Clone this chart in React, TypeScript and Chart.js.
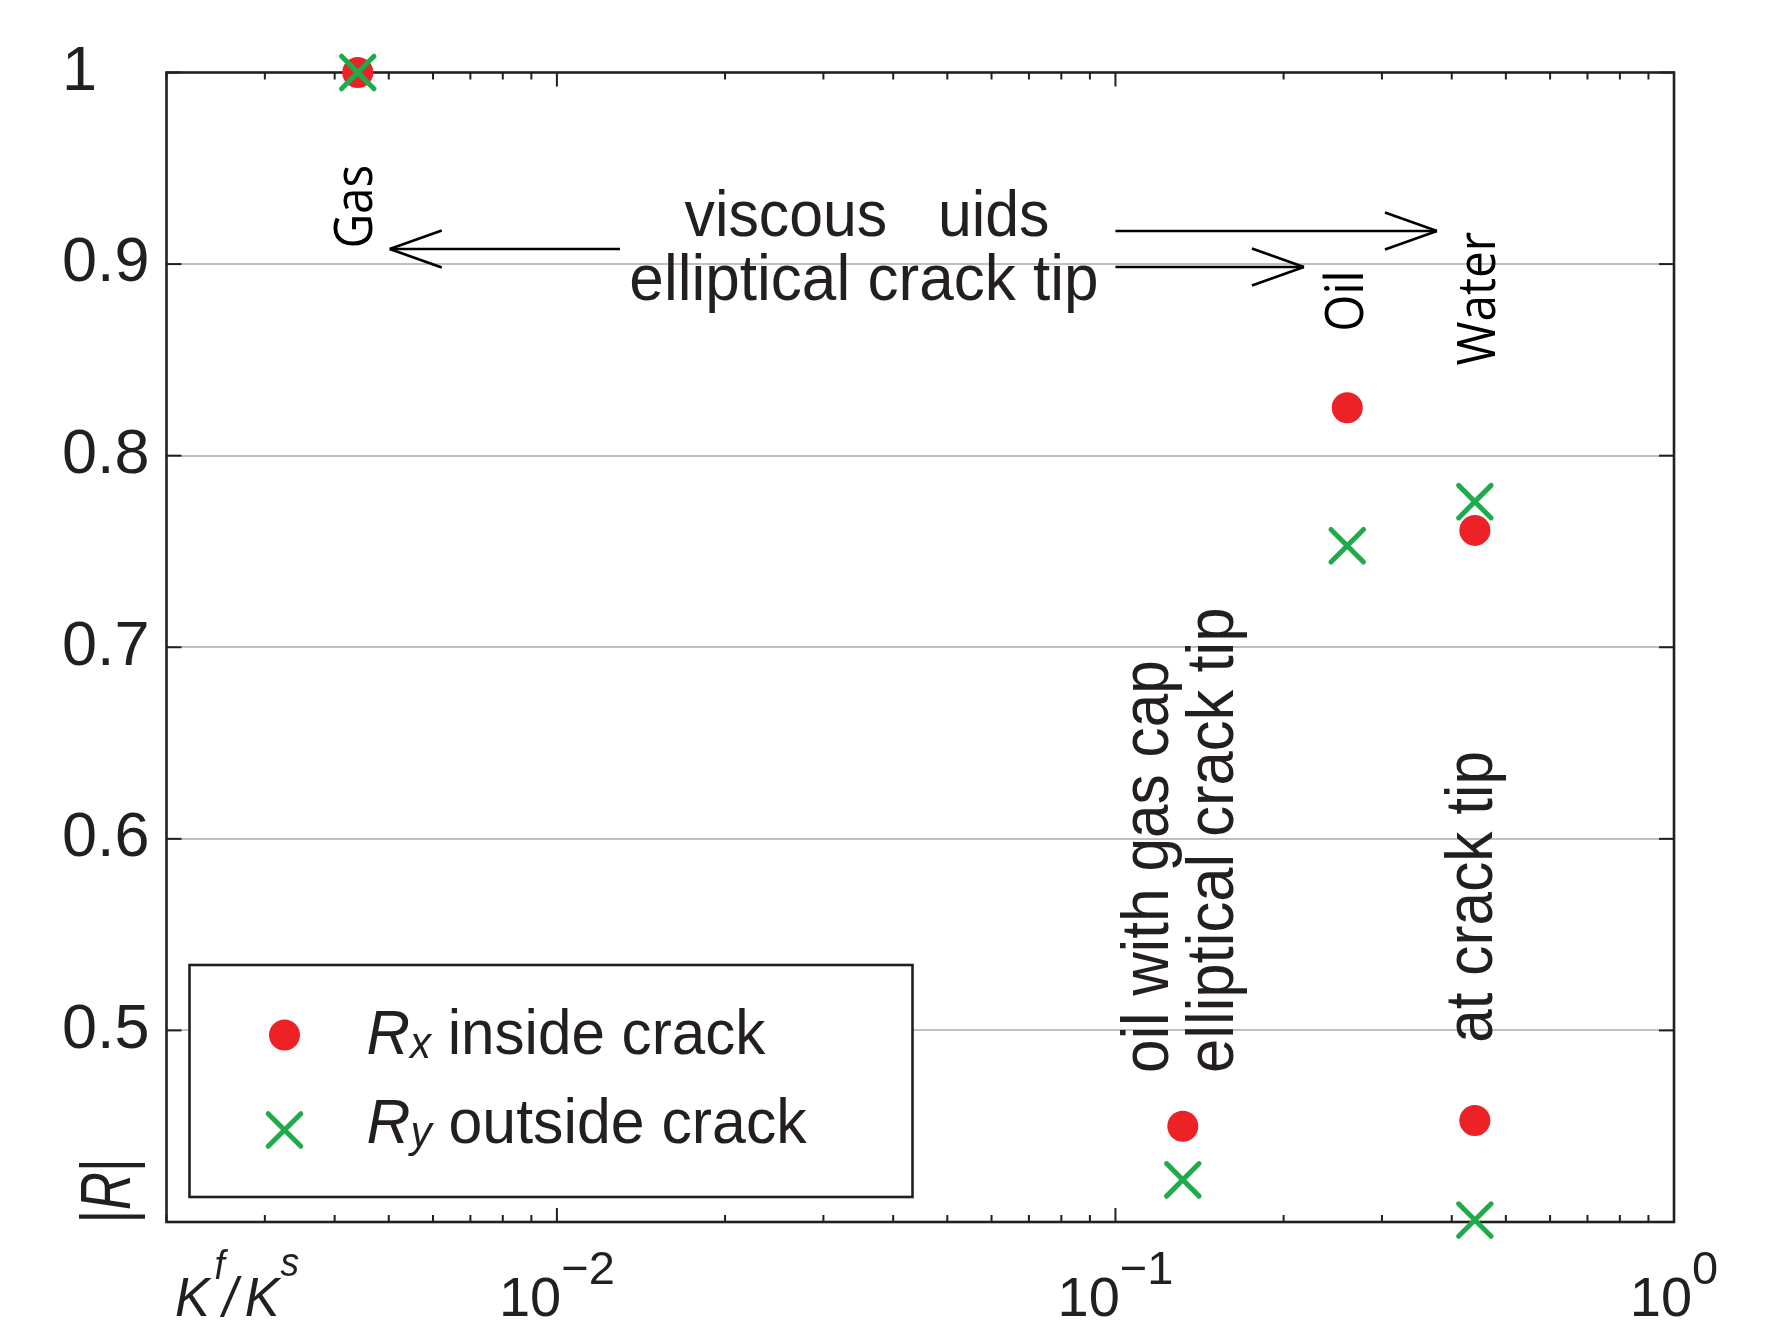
import React, { useEffect, useRef } from 'react';
import { Chart, registerables } from 'chart.js';

Chart.register(...registerables);

// ---------------- data ----------------
const caseNames = ['Gas', 'oil with gas cap', 'Oil', 'Water', 'Water at crack tip'];
const kRatio = [0.0044, 0.132, 0.26, 0.44, 0.44];          // K^f / K^s
const rxInside = [1.0, 0.45, 0.825, 0.761, 0.453];          // |R_x| inside crack
const ryOutside = [1.0, 0.422, 0.753, 0.776, 0.401];        // |R_y| outside crack

const yTickValues = [0.4, 0.5, 0.6, 0.7, 0.8, 0.9, 1.0];
const yTickLabels = ['', '0.5', '0.6', '0.7', '0.8', '0.9', '1'];
const xMajorValues = [0.01, 0.1, 1];
const xMajorExponents = ['\u22122', '\u22121', '0'];
const xMinorMultipliers = [2, 3, 4, 5, 6, 7, 8, 9];
const xRange = [0.002, 1];
const yRange = [0.4, 1.0];

// ---------------- annotations (positions in data units) ----------------
const fluidLabels = [
  { text: 'Gas', x: 0.00467, y: 0.930 },
  { text: 'Oil', x: 0.2774, y: 0.8807 },
  { text: 'Water', x: 0.478, y: 0.882 },
];
const headerLabels = [
  { text: 'viscous   uids', x: 0.0359, y: 0.9147, sx: 0.95 },
  { text: 'elliptical crack tip', x: 0.03546, y: 0.8813, sx: 0.97 },
];
const verticalNotes = [
  { text: 'oil with gas cap', x: 0.1241, y: 0.4778, sx: 0.915 },
  { text: 'elliptical crack tip', x: 0.1623, y: 0.4778, sx: 0.933 },
  { text: 'at crack tip', x: 0.472, y: 0.4935, sx: 0.915 },
];
const arrows = [
  { from: [0.01297, 0.9079], to: [0.00502, 0.9079] },
  { from: [0.1, 0.9173], to: [0.3764, 0.9173] },
  { from: [0.1, 0.8985], to: [0.2175, 0.8985] },
];

// ---------------- styles ----------------
const INK = '#231f20';
const RED = '#ec2227';
const GREEN = '#21aa4b';
const GRID = '#bfbfc1';
const SANS = '"Liberation Sans", Arial, Helvetica, sans-serif';
const FLUID = '"Open Sans", "Noto Sans", sans-serif';

type Seg = { t: string; font: string; dy: number; dx?: number };

function drawSegs(ctx: CanvasRenderingContext2D, segs: Seg[], x: number, y: number, align: 'left' | 'center', sx: number, rotate = false) {
  ctx.save();
  ctx.translate(x, y);
  if (rotate) ctx.rotate(-Math.PI / 2);
  ctx.scale(sx, 1);
  ctx.textAlign = 'left';
  ctx.textBaseline = 'alphabetic';
  const widths = segs.map((s) => {
    ctx.font = s.font;
    return ctx.measureText(s.t).width + (s.dx || 0);
  });
  const total = widths.reduce((a, b) => a + b, 0);
  let cx = align === 'center' ? -total / 2 : 0;
  segs.forEach((s, i) => {
    ctx.font = s.font;
    ctx.fillText(s.t, cx + (s.dx || 0), s.dy);
    cx += widths[i];
  });
  ctx.restore();
}

function line(ctx: CanvasRenderingContext2D, x1: number, y1: number, x2: number, y2: number) {
  ctx.beginPath();
  ctx.moveTo(x1, y1);
  ctx.lineTo(x2, y2);
  ctx.stroke();
}

const decorPlugin = {
  id: 'paperDecor',
  beforeDatasetsDraw(chart: any) {
    const { ctx, chartArea: ca, scales } = chart;
    const xs = scales.x;
    const ys = scales.y;
    ctx.save();
    ctx.strokeStyle = INK;
    ctx.lineWidth = 2;
    const decades = [-3, -2, -1, 0];
    decades.forEach((e) => {
      [1, ...xMinorMultipliers].forEach((m) => {
        const v = m * Math.pow(10, e);
        if (v < xRange[0] * 0.999 || v > xRange[1] * 1.001) return;
        const px = xs.getPixelForValue(v);
        const len = m === 1 ? 14 : 7;
        line(ctx, px, ca.bottom, px, ca.bottom - len);
        line(ctx, px, ca.top, px, ca.top + len);
      });
    });
    yTickValues.forEach((v) => {
      const py = ys.getPixelForValue(v);
      line(ctx, ca.left, py, ca.left + 15, py);
      line(ctx, ca.right, py, ca.right - 15, py);
    });
    ctx.lineWidth = 2.6;
    ctx.strokeRect(ca.left, ca.top, ca.right - ca.left, ca.bottom - ca.top);
    ctx.restore();
    ctx.lineCap = 'round';
  },
  afterDatasetsDraw(chart: any) {
    const { ctx, chartArea: ca, scales } = chart;
    const xs = scales.x;
    const ys = scales.y;
    ctx.lineCap = 'butt';
    ctx.save();
    ctx.fillStyle = INK;

    // x tick labels with superscripts
    xMajorValues.forEach((v, i) => {
      const px = xs.getPixelForValue(v);
      drawSegs(ctx, [
        { t: '10', font: `56px ${SANS}`, dy: 0 },
        { t: xMajorExponents[i], font: `47px ${SANS}`, dy: -32 },
      ], px, 1316, 'center', 1);
    });

    // x axis title K^f / K^s
    drawSegs(ctx, [
      { t: 'K', font: `italic 56px ${SANS}`, dy: 0 },
      { t: 'f', font: `italic 40px ${SANS}`, dy: -37, dx: 5 },
      { t: '/', font: `italic 56px ${SANS}`, dy: 0, dx: -2 },
      { t: 'K', font: `italic 56px ${SANS}`, dy: 0, dx: 8 },
      { t: 's', font: `italic 40px ${SANS}`, dy: -40, dx: 1 },
    ], 175, 1316, 'left', 0.93);

    // y axis title |R|
    drawSegs(ctx, [
      { t: '|', font: `71px ${SANS}`, dy: 0 },
      { t: 'R', font: `italic 71px ${SANS}`, dy: 0 },
      { t: '|', font: `71px ${SANS}`, dy: 0 },
    ], ca.left - 36.5, ys.getPixelForValue(yRange[0]) - 31, 'center', 0.74, true);

    // fluid labels (rotated)
    ctx.fillStyle = '#000';
    fluidLabels.forEach((l) => {
      drawSegs(ctx, [{ t: l.text, font: `53px ${FLUID}`, dy: 0 }],
        xs.getPixelForValue(l.x), ys.getPixelForValue(l.y), 'center', 0.9, true);
    });

    // header labels
    ctx.fillStyle = INK;
    headerLabels.forEach((l) => {
      drawSegs(ctx, [{ t: l.text, font: `64px ${SANS}`, dy: 0 }],
        xs.getPixelForValue(l.x), ys.getPixelForValue(l.y), 'center', l.sx);
    });

    // vertical notes
    verticalNotes.forEach((l) => {
      drawSegs(ctx, [{ t: l.text, font: `66px ${SANS}`, dy: 0 }],
        xs.getPixelForValue(l.x), ys.getPixelForValue(l.y), 'left', l.sx, true);
    });

    // arrows
    ctx.strokeStyle = '#000';
    ctx.lineWidth = 2.6;
    arrows.forEach((a) => {
      const x1 = xs.getPixelForValue(a.from[0]);
      const y1 = ys.getPixelForValue(a.from[1]);
      const x2 = xs.getPixelForValue(a.to[0]);
      const y2 = ys.getPixelForValue(a.to[1]);
      line(ctx, x1, y1, x2, y2);
      const len = Math.hypot(x1 - x2, y1 - y2);
      const ux = (x1 - x2) / len;
      const uy = (y1 - y2) / len;
      const hl = 52;
      const hw = 18.5;
      line(ctx, x2, y2, x2 + ux * hl - uy * hw, y2 + uy * hl + ux * hw);
      line(ctx, x2, y2, x2 + ux * hl + uy * hw, y2 + uy * hl - ux * hw);
    });

    // legend box
    const lx = ca.left + 23;
    const ly = 965;
    const lw = 723;
    const lh = 232;
    ctx.fillStyle = '#fff';
    ctx.fillRect(lx, ly, lw, lh);
    ctx.strokeStyle = INK;
    ctx.lineWidth = 2.6;
    ctx.strokeRect(lx, ly, lw, lh);

    const mx = lx + 95;
    ctx.fillStyle = RED;
    ctx.beginPath();
    ctx.arc(mx, ly + 70, 15.5, 0, Math.PI * 2);
    ctx.fill();
    ctx.strokeStyle = GREEN;
    ctx.lineWidth = 5;
    ctx.lineCap = 'round';
    const cy = ly + 165;
    const d = 16.3;
    line(ctx, mx - d, cy - d, mx + d, cy + d);
    line(ctx, mx - d, cy + d, mx + d, cy - d);
    ctx.lineCap = 'butt';

    ctx.fillStyle = INK;
    drawSegs(ctx, [
      { t: 'R', font: `italic 63px ${SANS}`, dy: 0 },
      { t: 'x', font: `italic 44px ${SANS}`, dy: 4 },
      { t: ' inside crack', font: `63px ${SANS}`, dy: 0 },
    ], lx + 177, ly + 89, 'left', 0.955);
    drawSegs(ctx, [
      { t: 'R', font: `italic 63px ${SANS}`, dy: 0 },
      { t: 'y', font: `italic 44px ${SANS}`, dy: 4 },
      { t: ' outside crack', font: `63px ${SANS}`, dy: 0 },
    ], lx + 177, ly + 178, 'left', 0.965);

    ctx.restore();
  },
};

export default function App() {
  const canvasRef = useRef<HTMLCanvasElement | null>(null);

  useEffect(() => {
    const canvas = canvasRef.current;
    if (!canvas) return;
    const chart = new Chart(canvas, {
      type: 'scatter',
      data: {
        labels: caseNames,
        datasets: [
          {
            label: 'R_y outside crack',
            data: kRatio.map((k, i) => ({ x: k, y: ryOutside[i] })),
            pointStyle: 'crossRot',
            pointRadius: 23,
            pointBorderWidth: 5,
            pointBorderColor: GREEN,
            pointBackgroundColor: GREEN,
            borderColor: GREEN,
            backgroundColor: GREEN,
            showLine: false,
            clip: false,
          } as any,
          {
            label: 'R_x inside crack',
            data: kRatio.map((k, i) => ({ x: k, y: rxInside[i] })),
            pointStyle: 'circle',
            pointRadius: 15.5,
            pointBorderWidth: 0,
            pointBackgroundColor: RED,
            pointBorderColor: RED,
            borderColor: RED,
            backgroundColor: RED,
            showLine: false,
            clip: false,
          } as any,
        ],
      },
      options: {
        responsive: false,
        maintainAspectRatio: false,
        animation: false,
        events: [],
        devicePixelRatio: 1,
        layout: { padding: { left: 62, right: 102, top: 72.5, bottom: 0 }, autoPadding: false },
        plugins: { legend: { display: false }, tooltip: { enabled: false } },
        scales: {
          x: {
            type: 'logarithmic',
            min: xRange[0],
            max: xRange[1],
            grid: { display: false },
            border: { display: false },
            ticks: { display: false },
            afterFit: (s: any) => { s.height = 99; },
          },
          y: {
            type: 'linear',
            min: yRange[0],
            max: yRange[1],
            afterBuildTicks: (s: any) => { s.ticks = yTickValues.map((v) => ({ value: v })); },
            ticks: {
              callback: (v: any) => {
                const i = yTickValues.findIndex((t) => Math.abs(t - Number(v)) < 1e-9);
                return i >= 0 ? yTickLabels[i] : '';
              },
              font: { family: SANS, size: 63 },
              color: INK,
              crossAlign: 'far',
              padding: 0,
              autoSkip: false,
            },
            grid: {
              drawTicks: false,
              lineWidth: 2,
              color: (c: any) => {
                const v = c.tick ? c.tick.value : 0;
                return v > yRange[0] + 1e-9 && v < yRange[1] - 1e-9 ? GRID : 'rgba(0,0,0,0)';
              },
            },
            border: { display: false },
            afterFit: (s: any) => { s.width = 104.5; },
          },
        },
      } as any,
      plugins: [decorPlugin],
    });
    return () => chart.destroy();
  }, []);

  return (
    <div style={{ position: 'absolute', left: 0, top: 0, width: 1776, height: 1321, background: '#fff' }}>
      <canvas ref={canvasRef} width={1776} height={1321} style={{ display: 'block', width: 1776, height: 1321 }} />
    </div>
  );
}
